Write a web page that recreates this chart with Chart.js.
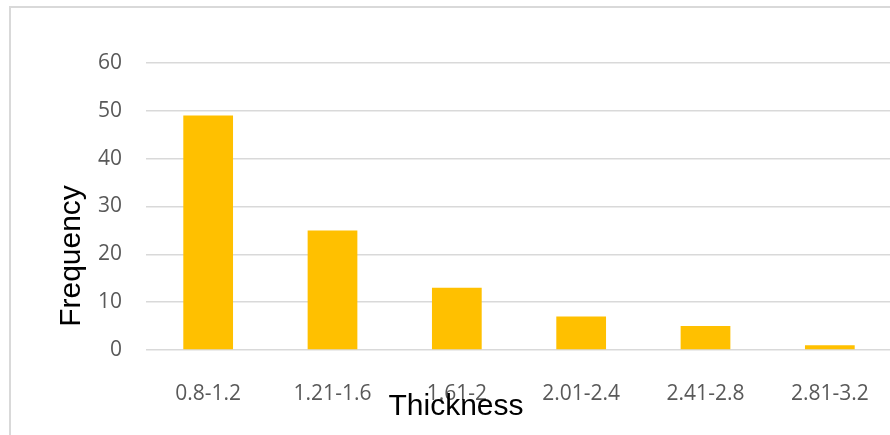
<!DOCTYPE html>
<html>
<head>
<meta charset="utf-8">
<script src="https://cdn.jsdelivr.net/npm/chart.js@4"></script>
<style>
  body { margin: 0; overflow: hidden; background: #fff; }
  #wrap { position: relative; width: 900px; height: 435px; }
  #frame { position: absolute; left: 9px; top: 6px; width: 900px; height: 460px; border: 2px solid #d9d9d9; box-sizing: border-box; }
  canvas { position: absolute; left: 0; top: 0; }
</style>
</head>
<body>
<div id="wrap">
  <div id="frame"></div>
  <canvas id="chart" width="900" height="435"></canvas>
</div>
<script>
const categories = ["0.8-1.2", "1.21-1.6", "1.61-2", "2.01-2.4", "2.41-2.8", "2.81-3.2"];
const frequency = [49, 25, 13, 7, 5, 1];
const yTicks = [0, 10, 20, 30, 40, 50, 60];
const xTitle = "Thickness";
const yTitle = "Frequency";

// axis titles sit where Excel put them, not centred on the plot
const axisTitles = {
  id: 'axisTitles',
  afterDraw(chart) {
    const ctx = chart.ctx;
    ctx.save();
    ctx.fillStyle = '#000';
    ctx.font = '30px "Liberation Sans", Arial, sans-serif';
    ctx.textAlign = 'center';
    ctx.textBaseline = 'middle';
    ctx.fillText(xTitle, 456, 407);
    ctx.translate(72, 256);
    ctx.rotate(-Math.PI / 2);
    ctx.fillText(yTitle, 0, 0);
    ctx.restore();
  }
};

new Chart(document.getElementById('chart'), {
  type: 'bar',
  data: {
    labels: categories,
    datasets: [{
      label: yTitle,
      data: frequency,
      backgroundColor: '#FFC000',
      barPercentage: 0.4,
      categoryPercentage: 1
    }]
  },
  options: {
    responsive: false,
    animation: false,
    layout: { padding: { top: 63, right: 8, bottom: 0, left: 0 } },
    plugins: { legend: { display: false }, tooltip: { enabled: false } },
    scales: {
      x: {
        grid: { display: false },
        border: { display: false },
        ticks: { color: '#595959', font: { family: '"Open Sans"', size: 21 }, padding: 23, maxRotation: 0 },
        afterFit(scale) { scale.height = 85; }
      },
      y: {
        min: 0,
        max: 60,
        afterBuildTicks(scale) { scale.ticks = yTicks.map(v => ({ value: v })); },
        grid: { color: '#d9d9d9', lineWidth: 1.5, drawTicks: false },
        border: { display: false },
        ticks: { color: '#595959', font: { family: '"Open Sans"', size: 21 }, padding: 24 },
        afterFit(scale) { scale.width = 146; }
      }
    }
  },
  plugins: [axisTitles]
});
</script>
</body>
</html>
